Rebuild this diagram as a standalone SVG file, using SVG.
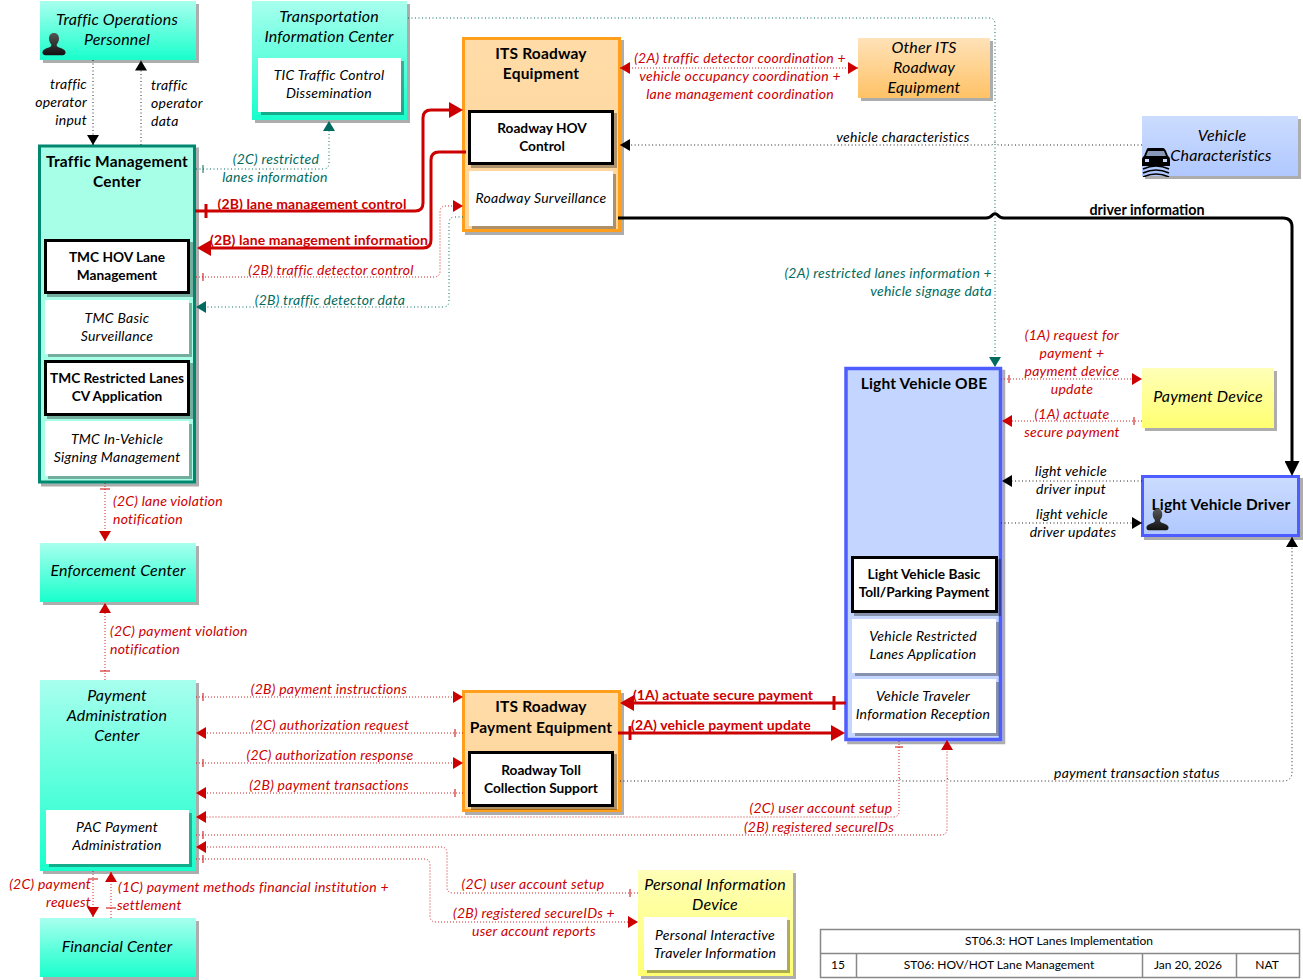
<svg xmlns="http://www.w3.org/2000/svg" xmlns:xlink="http://www.w3.org/1999/xlink" width="1303" height="980" viewBox="0 0 1303 980">
<style>
text{font-family:Lato,"Liberation Sans",sans-serif;text-anchor:middle;font-size:14px;letter-spacing:.26px;font-style:italic;fill:#000}
.n{font-size:16px;letter-spacing:.16px}
.b{font-weight:700;font-style:normal;font-size:15.5px;letter-spacing:.2px}
.sb{font-weight:700;font-style:normal;font-size:13.7px;letter-spacing:0}
.r{fill:#cc0000}.g{fill:#006b5e}
.rb{fill:#cc0000;font-weight:700;font-style:normal;font-size:14px;letter-spacing:.1px}
.k{font-weight:700;font-style:normal;font-size:14.3px;letter-spacing:0}
.e{text-anchor:end}.s{text-anchor:start}
.t{font-style:normal;font-size:12px;letter-spacing:0}
.sh{filter:url(#sh)}
.w{fill:#fff}
.kb{fill:#fff;stroke:#000;stroke-width:3}
.tl{fill:url(#gt)}.ye{fill:url(#gy)}.bl{fill:url(#gb)}.or{fill:url(#go)}
.tmc{fill:#a8ffe8;stroke:#008770;stroke-width:3}
.ite{fill:url(#gi);stroke:#ff9f1a;stroke-width:3}
.lv{fill:#c4d6ff;stroke:#4d5dff;stroke-width:3.5}
#conn path{fill:none}
.dr{stroke:#cc0000;stroke-dasharray:1 2;stroke-width:1;stroke-opacity:.85}
.dg{stroke:#006b5e;stroke-dasharray:1 2.5;stroke-width:1}
.dk{stroke:#222;stroke-dasharray:1 2.5;stroke-width:1}
.tr{stroke:#cc0000;stroke-width:3}
.tk{stroke:#000;stroke-width:3}
.tick{stroke-width:1;fill:none}
.tc{stroke:#888;fill:none;stroke-width:1.5}
</style>
<defs>
<filter id="sh" x="-5%" y="-5%" width="112%" height="112%"><feDropShadow dx="3" dy="3" stdDeviation="0.4" flood-color="#000" flood-opacity="0.32"/></filter>
<linearGradient id="gt" x1="0" y1="0" x2="0" y2="1"><stop offset="0" stop-color="#a8ffee"/><stop offset="1" stop-color="#19ffcc"/></linearGradient>
<linearGradient id="gy" x1="0" y1="0" x2="0" y2="1"><stop offset="0" stop-color="#ffffb8"/><stop offset="1" stop-color="#ffff70"/></linearGradient>
<linearGradient id="gb" x1="0" y1="0" x2="0" y2="1"><stop offset="0" stop-color="#ccdcff"/><stop offset="1" stop-color="#b0c8ff"/></linearGradient>
<linearGradient id="go" x1="0" y1="0" x2="0" y2="1"><stop offset="0" stop-color="#ffe2b8"/><stop offset="1" stop-color="#ffc266"/></linearGradient>
<linearGradient id="gi" x1="0" y1="0" x2="0" y2="1"><stop offset="0" stop-color="#ffdca8"/><stop offset="1" stop-color="#ffd49a"/></linearGradient>
<linearGradient id="gp" x1="0" y1="0" x2="0" y2="1"><stop offset="0" stop-color="#555"/><stop offset="1" stop-color="#111"/></linearGradient>
<marker id="ak" markerUnits="userSpaceOnUse" markerWidth="10" markerHeight="12" viewBox="0 0 10 12" refX="10" refY="6" orient="auto-start-reverse"><path d="M0 0L10 6L0 12Z" fill="#000"/></marker>
<marker id="ar" markerUnits="userSpaceOnUse" markerWidth="10" markerHeight="12" viewBox="0 0 10 12" refX="10" refY="6" orient="auto-start-reverse"><path d="M0 0L10 6L0 12Z" fill="#cc0000"/></marker>
<marker id="ag" markerUnits="userSpaceOnUse" markerWidth="10" markerHeight="12" viewBox="0 0 10 12" refX="10" refY="6" orient="auto-start-reverse"><path d="M0 0L10 6L0 12Z" fill="#006b5e"/></marker>
<marker id="br" markerUnits="userSpaceOnUse" markerWidth="14" markerHeight="16" viewBox="0 0 14 16" refX="10" refY="8" orient="auto"><path d="M0 0L14 8L0 16Z" fill="#cc0000"/></marker>
<marker id="bk" markerUnits="userSpaceOnUse" markerWidth="15" markerHeight="15" viewBox="0 0 15 15" refX="11" refY="7.5" orient="auto"><path d="M0 0L15 7.5L0 15Z" fill="#000"/></marker>
<symbol id="person" viewBox="0 0 24 24" overflow="visible"><path d="M12 1C8.500 1 7 3.500 7 6.500C7 9 8 11 9.200 12.200C9.500 13.500 9 14.500 8 15C5.500 16.200 1 17 0.500 20C0.300 21.500 1 23 3 23.300H21C23 23 23.700 21.500 23.500 20C23 17 18.500 16.200 16 15C15 14.500 14.500 13.500 14.800 12.200C16 11 17 9 17 6.500C17 3.500 15.500 1 12 1Z" fill="url(#gp)"/></symbol>
<symbol id="car" viewBox="0 0 28 30"><path d="M6 1H21C22 1 23 2 24 4L26 9C27.500 10 28 11 28 13V19H0V13C0 11 .5 10 2 9L4 4C5 2 5 1 6 1Z" fill="#000"/><path d="M6 4H22L24 9H4Z" fill="#8a98b8"/><rect x="3" y="12" width="4" height="3" fill="#c8d8ff"/><rect x="21" y="12" width="4" height="3" fill="#c8d8ff"/><path d="M1 22Q14 16 27 22M1 26Q14 20 27 26M1 30Q14 24 27 30" fill="none" stroke="#000" stroke-width="1.600"/></symbol>
</defs>
<rect width="1303" height="980" fill="#fff"/>

<g id="traffic-operations-personnel"><rect class="tl sh" x="40" y="1" width="156" height="59"/><use href="#person" x="42" y="32" width="24" height="24"/><text class="n" x="117" y="25">Traffic Operations</text><text class="n" x="117" y="45">Personnel</text></g>

<g id="tic"><rect class="tl sh" x="252" y="1" width="155" height="119"/><text class="n" x="329" y="22">Transportation</text><text class="n" x="329" y="42">Information Center</text><rect class="w sh" x="258" y="58" width="143" height="54"/><text x="329" y="80">TIC Traffic Control</text><text x="329" y="98">Dissemination</text></g>

<g id="tmc"><rect class="tmc sh" x="39.500" y="146" width="155" height="336"/><text class="b" x="117" y="167">Traffic Management</text><text class="b" x="117" y="187">Center</text>
<rect class="kb sh" x="45.500" y="240.500" width="143" height="52"/><text class="sb" x="117" y="262">TMC HOV Lane</text><text class="sb" x="117" y="280">Management</text>
<rect class="w sh" x="45" y="300" width="144" height="54"/><text x="117" y="323">TMC Basic</text><text x="117" y="341">Surveillance</text>
<rect class="kb sh" x="45.500" y="361.500" width="143" height="53"/><text class="sb" x="117" y="383">TMC Restricted Lanes</text><text class="sb" x="117" y="401">CV Application</text>
<rect class="w sh" x="45" y="421" width="144" height="55"/><text x="117" y="444">TMC In-Vehicle</text><text x="117" y="462">Signing Management</text></g>

<g id="enforcement-center"><rect class="tl sh" x="40" y="543" width="156" height="59"/><text class="n" x="118" y="576">Enforcement Center</text></g>

<g id="pac"><rect class="tl sh" x="40" y="680" width="156" height="191"/><text class="n" x="117" y="701">Payment</text><text class="n" x="117" y="721">Administration</text><text class="n" x="117" y="741">Center</text><rect class="w sh" x="46" y="810" width="143" height="54"/><text x="117" y="832">PAC Payment</text><text x="117" y="850">Administration</text></g>

<g id="financial-center"><rect class="tl sh" x="40" y="918" width="156" height="59"/><text class="n" x="117" y="952">Financial Center</text></g>

<g id="its-roadway-equipment"><rect class="ite sh" x="463.500" y="38.500" width="156" height="192"/><text class="b" x="541" y="59">ITS Roadway</text><text class="b" x="541" y="79">Equipment</text>
<rect class="kb sh" x="469.500" y="111.500" width="143" height="52"/><text class="sb" x="542" y="133">Roadway HOV</text><text class="sb" x="542" y="151">Control</text>
<rect class="w sh" x="469" y="171" width="144" height="55"/><text x="541" y="203">Roadway Surveillance</text></g>

<g id="other-its-roadway-equipment"><rect class="or sh" x="858" y="38" width="132" height="60"/><text class="n" x="924" y="53">Other ITS</text><text class="n" x="924" y="73">Roadway</text><text class="n" x="924" y="93">Equipment</text></g>

<g id="vehicle-characteristics"><rect class="bl sh" x="1142" y="116" width="156" height="60"/><use href="#car" x="1142" y="147" width="28" height="30"/><text class="n" x="1222" y="141">Vehicle</text><text class="n" x="1221" y="161">Characteristics</text></g>

<g id="light-vehicle-obe"><rect class="lv sh" x="846" y="368.500" width="154.500" height="371"/><text class="b" x="924" y="389">Light Vehicle OBE</text>
<rect class="kb sh" x="852.500" y="557.500" width="144" height="54"/><text class="sb" x="924" y="579">Light Vehicle Basic</text><text class="sb" x="924" y="597">Toll/Parking Payment</text>
<rect class="w sh" x="852" y="619" width="144" height="54"/><text x="923" y="641">Vehicle Restricted</text><text x="923" y="659">Lanes Application</text>
<rect class="w sh" x="852" y="679" width="144" height="54"/><text x="923" y="701">Vehicle Traveler</text><text x="923" y="719">Information Reception</text></g>

<g id="payment-device"><rect class="ye sh" x="1142" y="368" width="132" height="60"/><text class="n" x="1208" y="402">Payment Device</text></g>

<g id="light-vehicle-driver"><rect class="bl sh" x="1142.500" y="476.500" width="156" height="59" stroke="#4d5dff" stroke-width="3"/><text class="b" x="1221" y="510">Light Vehicle Driver</text><use href="#person" x="1146" y="508" width="23" height="23"/></g>

<g id="its-roadway-payment-equipment"><rect class="ite sh" x="463.500" y="691.500" width="156" height="119"/><text class="b" x="541" y="712">ITS Roadway</text><text class="b" x="541" y="733">Payment Equipment</text>
<rect class="kb sh" x="469.500" y="752.500" width="143" height="53"/><text class="sb" x="541" y="775">Roadway Toll</text><text class="sb" x="541" y="793">Collection Support</text></g>

<g id="personal-information-device"><rect class="ye sh" x="638" y="870" width="155" height="106"/><text class="n" x="715" y="890">Personal Information</text><text class="n" x="715" y="910">Device</text><rect class="w sh" x="644" y="917" width="143" height="53"/><text x="715" y="940">Personal Interactive</text><text x="715" y="958">Traveler Information</text></g>

<g id="title-block"><path class="tc" d="M820.500 929.500H1299.500V977.500H820.500ZM820.500 953.500H1299.500M856.500 953.500V977.500M1142.500 953.500V977.500M1236.500 953.500V977.500"/><text class="t" x="1059" y="945">ST06.3: HOT Lanes Implementation</text><text class="t" x="838" y="969">15</text><text class="t" x="999" y="969">ST06: HOV/HOT Lane Management</text><text class="t" x="1188" y="969">Jan 20, 2026</text><text class="t" x="1267" y="969">NAT</text></g>

<g id="conn">
<path class="dk" marker-end="url(#ak)" d="M93 60V145"/>
<path class="dk" marker-end="url(#ak)" d="M141 145V60.500"/>
<path class="dg" marker-end="url(#ag)" d="M196 169H323Q329 169 329 163V121"/>
<path class="dg" marker-end="url(#ag)" d="M408 18H989Q995 18 995 24V367"/>
<path class="tr" marker-end="url(#br)" d="M195 211H415Q423 211 423 203V118Q423 110 431 110H459"/>
<path class="tr" marker-end="url(#br)" d="M466 152H439Q431 152 431 160V240Q431 248 423 248H201"/>
<path class="dr" marker-end="url(#ar)" d="M196 277H434Q440 277 440 271V212Q440 206 446 206H463"/>
<path class="dg" marker-end="url(#ag)" d="M463 217H455Q449 217 449 223V301Q449 307 443 307H196"/>
<path class="tk" marker-end="url(#bk)" d="M618 218H986Q990 218 993 214.500Q995 213 997 214.500Q1000 218 1004 218H1283Q1292 218 1292 227V472"/>
<path class="dr" marker-start="url(#ar)" marker-end="url(#ar)" d="M620 68H858"/>
<path class="dk" marker-end="url(#ak)" d="M1142 145H999Q997 145 995.500 143Q995 142 994 143Q993 145 991 145H620"/>
<path class="dr" marker-end="url(#ar)" d="M1001 379H1142"/>
<path class="dr" marker-end="url(#ar)" d="M1142 421H1002"/>
<path class="dk" marker-end="url(#ak)" d="M1142 481H1002"/>
<path class="dk" marker-end="url(#ak)" d="M1001 523H1142"/>
<path class="dk" marker-end="url(#ak)" d="M620 781H895Q897 781 898.500 779Q899 778 900 779Q901 781 903 781H943Q945 781 946.500 779Q947 778 948 779Q949 781 951 781H1283Q1292 781 1292 772V537"/>
<path class="dr" marker-end="url(#ar)" d="M105 483V541"/>
<path class="dr" marker-end="url(#ar)" d="M105 680V603"/>
<path class="dr" marker-end="url(#ar)" d="M196 697H463"/>
<path class="dr" marker-end="url(#ar)" d="M463 733H196"/>
<path class="dr" marker-end="url(#ar)" d="M196 763H463"/>
<path class="dr" marker-end="url(#ar)" d="M463 793H196"/>
<path class="dr" marker-end="url(#ar)" d="M899 741V811Q899 817 893 817H196"/>
<path class="dr" marker-end="url(#ar)" d="M196 835H941Q947 835 947 829V740"/>
<path class="dr" marker-end="url(#ar)" d="M638 893H453Q447 893 447 887V853Q447 847 441 847H196"/>
<path class="dr" marker-end="url(#ar)" d="M196 859H424Q430 859 430 865V916Q430 922 436 922H638"/>
<path class="dr" marker-end="url(#ar)" d="M93 871V917"/>
<path class="dr" marker-end="url(#ar)" d="M111 918V872"/>
<path class="tr" marker-end="url(#br)" d="M846 703H624"/>
<path class="tr" marker-end="url(#br)" d="M618 733H841"/>
<path class="tick" stroke="#006b5e" d="M203 165V173"/>
<path class="tick" stroke="#cc0000" d="M203 273V281M1009 375V383M1134 417V425M100 489H110M100 671H110M203 693V701M455 729V737M203 759V767M455 789V797M895 747H903M203 831V839M630 889V897M203 855V863M88 879H98M106 908H116"/>
<path stroke="#cc0000" stroke-width="3" fill="none" d="M206 204V218M834 696V710M630 726V740"/>
</g>

<g id="labels">
<text class="e" x="87" y="89">traffic</text><text class="e" x="87" y="107">operator</text><text class="e" x="87" y="125">input</text>
<text class="s" x="151" y="90">traffic</text><text class="s" x="151" y="108">operator</text><text class="s" x="151" y="126">data</text>
<text class="g" x="276" y="164">(2C) restricted</text><text class="g" x="275" y="182">lanes information</text>
<text class="rb" x="312" y="209">(2B) lane management control</text>
<text class="rb" x="319" y="245">(2B) lane management information</text>
<text class="r" x="331" y="275">(2B) traffic detector control</text>
<text class="g" x="330" y="305">(2B) traffic detector data</text>
<text class="r" x="740" y="63">(2A) traffic detector coordination +</text><text class="r" x="740" y="81">vehicle occupancy coordination +</text><text class="r" x="740" y="99">lane management coordination</text>
<text x="903" y="142">vehicle characteristics</text>
<text class="k" x="1147" y="215">driver information</text>
<text class="g e" x="992" y="278">(2A) restricted lanes information +</text><text class="g e" x="992" y="296">vehicle signage data</text>
<text class="r" x="1072" y="340">(1A) request for</text><text class="r" x="1072" y="358">payment +</text><text class="r" x="1072" y="376">payment device</text><text class="r" x="1072" y="394">update</text>
<text class="r" x="1072" y="419">(1A) actuate</text><text class="r" x="1072" y="437">secure payment</text>
<text x="1071" y="476">light vehicle</text><text x="1071" y="494">driver input</text>
<text x="1072" y="519">light vehicle</text><text x="1073" y="537">driver updates</text>
<text class="r s" x="113" y="506">(2C) lane violation</text><text class="r s" x="113" y="524">notification</text>
<text class="r s" x="110" y="636">(2C) payment violation</text><text class="r s" x="110" y="654">notification</text>
<text class="r" x="329" y="694">(2B) payment instructions</text>
<text class="r" x="330" y="730">(2C) authorization request</text>
<text class="r" x="330" y="760">(2C) authorization response</text>
<text class="r" x="329" y="790">(2B) payment transactions</text>
<text class="rb" x="723" y="700">(1A) actuate secure payment</text>
<text class="rb" x="721" y="730">(2A) vehicle payment update</text>
<text x="1137" y="778">payment transaction status</text>
<text class="r" x="821" y="813">(2C) user account setup</text>
<text class="r" x="819" y="832">(2B) registered secureIDs</text>
<text class="r" x="533" y="889">(2C) user account setup</text>
<text class="r" x="534" y="918">(2B) registered secureIDs +</text><text class="r" x="534" y="936">user account reports</text>
<text class="r e" x="91" y="889">(2C) payment</text><text class="r e" x="91" y="907">request</text>
<text class="r s" x="118" y="892">(1C) payment methods financial institution +</text><text class="r s" x="117" y="910">settlement</text>
</g>
</svg>
